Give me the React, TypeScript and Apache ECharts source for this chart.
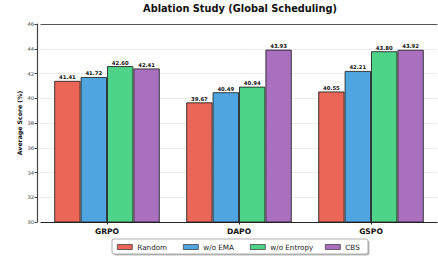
import React, { useEffect, useRef } from "react";
import * as echarts from "echarts";

const categories = ["GRPO", "DAPO", "GSPO"];
const seriesNames = ["Random", "w/o EMA", "w/o Entropy", "CBS"];
const randomValues = [41.41, 39.67, 40.55];
const woEmaValues = [41.72, 40.49, 42.21];
const woEntropyValues = [42.6, 40.94, 43.8];
const cbsValues = [42.41, 43.93, 43.92];
const colors = ["#EC6657", "#4EA5DF", "#4DD488", "#A970C0"];
const legendLefts = [117, 183, 250, 325];

const FONT = "DejaVu Sans";

export default function App() {
  const ref = useRef<HTMLDivElement>(null);
  useEffect(() => {
    if (!ref.current) return;
    const chart = echarts.init(ref.current, null, { renderer: "svg" });
    const values = [randomValues, woEmaValues, woEntropyValues, cbsValues];
    const series = seriesNames.map((name, i) => ({
      name,
      type: "bar",
      data: values[i],
      barWidth: 26.4,
      barGap: "0%",
      itemStyle: { color: colors[i], borderColor: "rgba(30,30,30,0.85)", borderWidth: 1 },
      label: {
        show: true,
        position: "top",
        distance: 1,
        fontSize: 5.3,
        fontWeight: "bold",
        fontFamily: FONT,
        color: "#111",
        formatter: (p: any) => Number(p.value).toFixed(2),
      },
    }));
    const legends = seriesNames.map((name, i) => ({
      data: [name],
      left: legendLefts[i],
      top: 242,
      padding: 0,
      itemWidth: 15,
      itemHeight: 5,
      icon: "rect",
      itemStyle: { borderColor: "#333", borderWidth: 0.7 },
      textStyle: { fontSize: 7.2, fontFamily: FONT, color: "#222", lineHeight: 10 },
    }));
    chart.setOption({
      animation: false,
      backgroundColor: "#fff",
      textStyle: { fontFamily: FONT },
      grid: { left: 41, right: 1, top: 24, bottom: 36, containLabel: false },
      legend: legends,
      xAxis: [
        {
          type: "category",
          data: categories,
          axisLine: { lineStyle: { color: "#222", width: 1.2 } },
          axisTick: { show: true, alignWithLabel: true, length: 2.5, lineStyle: { color: "#222" } },
          axisLabel: { fontSize: 7.6, fontWeight: "bold", fontFamily: FONT, color: "#111", margin: 5 },
        },
        {
          type: "category",
          data: categories,
          position: "top",
          axisLine: { show: true, lineStyle: { color: "#555", width: 1.2 } },
          axisTick: { show: false },
          axisLabel: { show: false },
        },
      ],
      yAxis: {
        type: "value",
        min: 30,
        max: 46,
        interval: 2,
        offset: 4,
        name: "Average Score (%)",
        nameLocation: "middle",
        nameGap: 15,
        nameMoveOverlap: false,
        nameTextStyle: { fontSize: 6.2, fontWeight: "bold", fontFamily: FONT, color: "#111" },
        axisLine: { show: true, lineStyle: { color: "#444", width: 1.2 } },
        axisTick: { show: true, length: 2.5, lineStyle: { color: "#444" } },
        axisLabel: { fontSize: 5.2, fontFamily: FONT, color: "#444", margin: 3 },
        splitLine: { show: true, lineStyle: { color: "#cfcfcf", type: "dotted", width: 0.8 } },
      },
      graphic: [
        {
          type: "text",
          x: 240,
          y: 3,
          style: {
            text: "Ablation Study (Global Scheduling)",
            fontSize: 9.8,
            fontWeight: "bold",
            fontFamily: FONT,
            fill: "#111",
            textAlign: "center",
            textVerticalAlign: "top",
          },
        },
        {
          type: "rect",
          z: 0,
          shape: { x: 113.5, y: 240.5, width: 256, height: 15, r: 2 },
          style: { fill: "#bdbdbd" },
        },
        {
          type: "rect",
          z: 1,
          shape: { x: 112, y: 239, width: 256, height: 15, r: 2 },
          style: { fill: "#fff", stroke: "#999", lineWidth: 0.8 },
        },
      ],
      series,
    });
    return () => chart.dispose();
  }, []);
  return (
    <div
      ref={ref}
      style={{ position: "fixed", left: 0, top: 0, width: 438, height: 258, background: "#fff" }}
    />
  );
}
